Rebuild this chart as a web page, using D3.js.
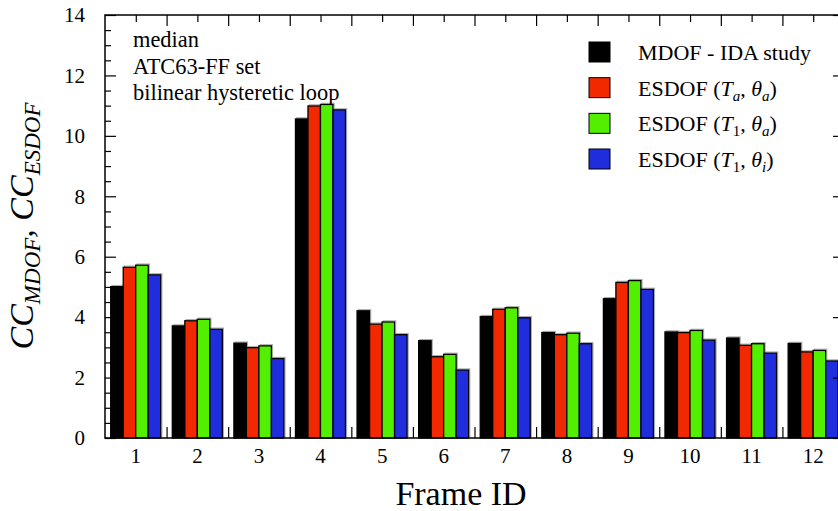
<!DOCTYPE html>
<html>
<head>
<meta charset="utf-8">
<script src="https://cdnjs.cloudflare.com/ajax/libs/d3/7.8.5/d3.min.js"></script>
<style>
  body { margin: 0; background: #fff; }
</style>
</head>
<body>
<div id="chart"></div>
<script>
// data
const frames = ["1","2","3","4","5","6","7","8","9","10","11","12"];
const seriesNames = ["mdof", "esdofTaThA", "esdofT1ThA", "esdofT1ThI"];
const mdof       = [5.01, 3.71, 3.14, 10.56, 4.21, 3.22, 4.02, 3.49, 4.61, 3.51, 3.31, 3.13];
const esdofTaThA = [5.65, 3.88, 2.99, 10.99, 3.77, 2.69, 4.26, 3.42, 5.15, 3.49, 3.07, 2.85];
const esdofT1ThA = [5.72, 3.93, 3.05, 11.04, 3.84, 2.77, 4.31, 3.47, 5.21, 3.56, 3.12, 2.90];
const esdofT1ThI = [5.40, 3.60, 2.63, 10.86, 3.42, 2.25, 3.98, 3.12, 4.92, 3.24, 2.81, 2.55];
const yTicks = [0, 2, 4, 6, 8, 10, 12, 14];
const notes = ["median", "ATC63-FF set", "bilinear hysteretic loop"];

const FONT = '"Liberation Serif", "Times New Roman", serif';

const colors = d3.scaleOrdinal()
  .domain(seriesNames)
  .range(["#000000", "#f22800", "#52f000", "#1f2ddd"]);

const width = 838, height = 511;
const margin = {left: 105, right: -6, top: 15, bottom: 73};

const svg = d3.select("#chart").append("svg")
  .attr("width", width)
  .attr("height", height);

const table = frames.map((f, i) => ({
  frame: f,
  values: [mdof[i], esdofTaThA[i], esdofT1ThA[i], esdofT1ThI[i]]
}));

// scales
const x0 = d3.scaleBand()
  .domain(frames)
  .range([margin.left, width - margin.right]);

const x1 = d3.scaleBand()
  .domain(seriesNames)
  .range([x0.bandwidth() * 0.093, x0.bandwidth() * 0.905]);

const xLin = d3.scaleLinear()
  .domain([0, frames.length])
  .range([margin.left, width - margin.right]);

const y = d3.scaleLinear()
  .domain([0, 14])
  .range([height - margin.bottom, margin.top]);

// bars
const groups = svg.selectAll(".group")
  .data(table)
  .enter().append("g")
    .attr("class", "group")
    .attr("transform", d => `translate(${x0(d.frame)},0)`);

// faint shadow behind bars
groups.selectAll(".shadow")
  .data(d => d.values.map((v, k) => ({key: seriesNames[k], value: v})))
  .enter().append("rect")
    .attr("x", d => x1(d.key) + 1.2)
    .attr("y", d => y(d.value) - 1.2)
    .attr("width", x1.bandwidth())
    .attr("height", d => y(0) - y(d.value))
    .style("fill", "none")
    .style("stroke", "#aaa")
    .style("stroke-width", 1);

groups.selectAll(".bar")
  .data(d => d.values.map((v, k) => ({key: seriesNames[k], value: v})))
  .enter().append("rect")
    .attr("class", "bar")
    .attr("x", d => x1(d.key))
    .attr("y", d => y(d.value))
    .attr("width", x1.bandwidth())
    .attr("height", d => y(0) - y(d.value))
    .style("fill", d => colors(d.key))
    .style("stroke", "#000")
    .style("stroke-width", 1.3);

// axes
const minorY = d3.range(0, 14.01, 0.5).filter(v => v % 2 !== 0);

svg.append("g")
  .attr("transform", `translate(${margin.left},0)`)
  .call(d3.axisLeft(y).tickValues(yTicks).tickSize(-11).tickPadding(20))
  .attr("font-size", "21px");

svg.append("g")
  .attr("transform", `translate(${margin.left},0)`)
  .call(d3.axisLeft(y).tickValues(minorY).tickSize(-6).tickFormat(""));

svg.append("g")
  .attr("transform", `translate(${width - margin.right},0)`)
  .call(d3.axisRight(y).tickValues(yTicks).tickSize(-11).tickFormat(""));

svg.append("g")
  .attr("transform", `translate(${width - margin.right},0)`)
  .call(d3.axisRight(y).tickValues(minorY).tickSize(-6).tickFormat(""));

// bottom: labels at centers, ticks at boundaries
svg.append("g")
  .attr("transform", `translate(0,${height - margin.bottom})`)
  .call(d3.axisBottom(x0).tickSize(0).tickPadding(10))
  .attr("font-size", "21px");

svg.append("g")
  .attr("transform", `translate(0,${height - margin.bottom})`)
  .call(d3.axisBottom(xLin).tickValues(d3.range(1, frames.length)).tickSize(-11).tickFormat(""));

svg.append("g")
  .attr("transform", `translate(0,${margin.top})`)
  .call(d3.axisTop(xLin).tickValues(d3.range(1, frames.length)).tickSize(-11).tickFormat(""));

svg.append("g")
  .attr("transform", `translate(0,${margin.top})`)
  .call(d3.axisTop(xLin).tickValues(d3.range(0.5, frames.length, 1)).tickSize(-7).tickFormat(""));

svg.selectAll(".domain").remove();
svg.selectAll(".tick line").style("stroke", "#000").style("stroke-width", 1.2);

// frame
svg.append("rect")
  .attr("x", margin.left)
  .attr("y", margin.top)
  .attr("width", width - margin.right - margin.left)
  .attr("height", height - margin.bottom - margin.top)
  .style("fill", "none")
  .style("stroke", "#000")
  .style("stroke-width", 1.5);

// axis titles
svg.append("text")
  .attr("x", 461)
  .attr("y", 505)
  .style("text-anchor", "middle")
  .style("font-size", "34px")
  .text("Frame ID");

const yl = svg.append("text")
  .attr("transform", "translate(33,226) rotate(-90)")
  .style("text-anchor", "middle")
  .style("font-size", "34px")
  .style("font-style", "italic");
yl.append("tspan").text("CC");
yl.append("tspan").attr("dy", 7).style("font-size", "23px").text("MDOF");
yl.append("tspan").attr("dy", -7).text(", CC");
yl.append("tspan").attr("dy", 7).style("font-size", "23px").text("ESDOF");

// notes
svg.selectAll(".note")
  .data(notes)
  .enter().append("text")
    .attr("class", "note")
    .attr("x", 133)
    .attr("y", (d, i) => 47 + i * 26.5)
    .style("font-size", "22.4px")
    .text(d => d);

// legend
const legendY = d3.scalePoint()
  .domain(seriesNames)
  .range([52, 159]);

const legend = svg.selectAll(".legend")
  .data(seriesNames)
  .enter().append("g")
    .attr("class", "legend")
    .attr("transform", d => `translate(589,${legendY(d)})`);

legend.append("rect")
  .attr("x", 0)
  .attr("y", -10)
  .attr("width", 21)
  .attr("height", 20)
  .style("fill", d => colors(d))
  .style("stroke", "#000")
  .style("stroke-width", 1);

const labelParts = {
  mdof: [["MDOF - IDA study", ""]],
  esdofTaThA: [["ESDOF (", ""], ["T", "i"], ["a", "is"], [", ", ""], ["θ", "i"], ["a", "is"], [")", ""]],
  esdofT1ThA: [["ESDOF (", ""], ["T", "i"], ["1", "s"], [", ", ""], ["θ", "i"], ["a", "is"], [")", ""]],
  esdofT1ThI: [["ESDOF (", ""], ["T", "i"], ["1", "s"], [", ", ""], ["θ", "i"], ["i", "is"], [")", ""]]
};

legend.each(function(key) {
  const t = d3.select(this).append("text")
    .attr("x", 49)
    .attr("y", 8)
    .style("font-size", "22px");
  let low = false;
  labelParts[key].forEach(([s, st]) => {
    const sp = t.append("tspan").text(s);
    if (st.includes("i")) sp.style("font-style", "italic");
    const isSub = st.includes("s");
    if (isSub && !low) { sp.attr("dy", 5); low = true; }
    else if (!isSub && low) { sp.attr("dy", -5); low = false; }
    if (isSub) sp.style("font-size", "15px");
  });
});

// serif everywhere, also on the axis labels
svg.selectAll("text").style("font-family", FONT).style("fill", "#000");
</script>
</body>
</html>
